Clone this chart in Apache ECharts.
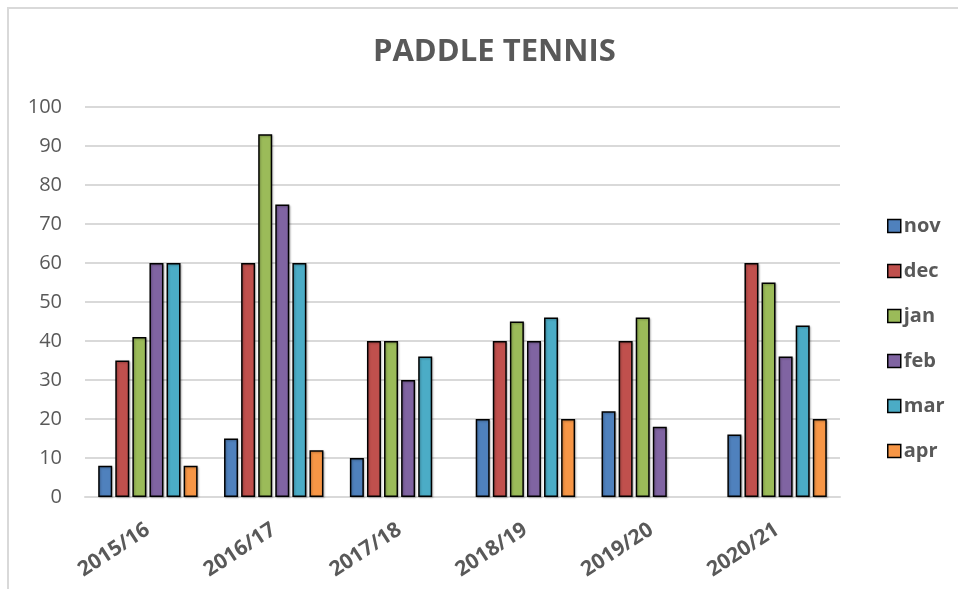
<!DOCTYPE html>
<html>
<head>
<meta charset="utf-8">
<script src="https://cdn.jsdelivr.net/npm/echarts@6/dist/echarts.min.js"></script>
<style>
html,body{margin:0;padding:0;background:#fff;}
#frame{position:absolute;left:7px;top:7px;width:1000px;height:700px;border:2px solid #d9d9d9;box-sizing:border-box;}
#chart{position:absolute;left:0;top:0;width:958px;height:589px;}
</style>
</head>
<body>
<div id="frame"></div>
<div id="chart"></div>
<script>
const categories = ['2015/16','2016/17','2017/18','2018/19','2019/20','2020/21'];
const seriesNames = ['nov','dec','jan','feb','mar','apr'];
const nov = [8, 15, 10, 20, 22, 16];
const dec = [35, 60, 40, 40, 40, 60];
const jan = [41, 93, 40, 45, 46, 55];
const feb = [60, 75, 30, 40, 18, 36];
const mar = [60, 60, 36, 46, null, 44];
const apr = [8, 12, null, 20, null, 20];
const yTicks = [0,10,20,30,40,50,60,70,80,90,100];
const colors = ['#4F81BD','#C0504D','#9BBB59','#8064A2','#4BACC6','#F79646'];
const values = [nov, dec, jan, feb, mar, apr];

const chart = echarts.init(document.getElementById('chart'), null, {renderer:'canvas'});
const txt = '#595959';
const font = '"Open Sans", "Liberation Sans", sans-serif';
chart.setOption({
  backgroundColor: 'transparent',
  animation: false,
  textStyle: {fontFamily: font},
  title: {
    text: 'PADDLE TENNIS',
    left: 368,
    top: 32,
    textStyle: {fontSize: 31, fontWeight: 'bold', color: txt, fontFamily: font}
  },
  legend: {
    orient: 'vertical',
    left: 882,
    top: 211,
    itemWidth: 13,
    itemHeight: 13,
    itemGap: 25,
    icon: 'rect',
    data: seriesNames,
    textStyle: {fontSize: 20, fontWeight: 'bold', color: txt, padding: [0,0,0,-2]},
    itemStyle: {borderColor: '#000', borderWidth: 1.5}
  },
  grid: {left: 85, right: 118, top: 107, bottom: 92, containLabel: false},
  xAxis: {
    type: 'category',
    data: categories,
    axisLine: {lineStyle: {color: '#d9d9d9', width: 2}},
    axisTick: {show: false},
    axisLabel: {rotate: 33, fontSize: 21, fontWeight: 'bold', color: txt, margin: 31}
  },
  yAxis: {
    type: 'value',
    min: 0, max: 100, interval: 10,
    axisLine: {show: false},
    axisTick: {show: false},
    splitLine: {lineStyle: {color: '#d9d9d9', width: 2}},
    axisLabel: {fontSize: 20, color: txt, margin: 23,
      formatter: v => yTicks.includes(v) ? String(v) : ''}
  },
  series: seriesNames.map((name, i) => ({
    name: name,
    type: 'bar',
    data: values[i],
    barGap: '22%',
    barCategoryGap: '21%',
    itemStyle: {
      color: colors[i],
      borderColor: '#000',
      borderWidth: 1.5,
      shadowColor: 'rgba(0,0,0,0.25)',
      shadowBlur: 2,
      shadowOffsetX: 1,
      shadowOffsetY: 1
    }
  }))
});
</script>
</body>
</html>
